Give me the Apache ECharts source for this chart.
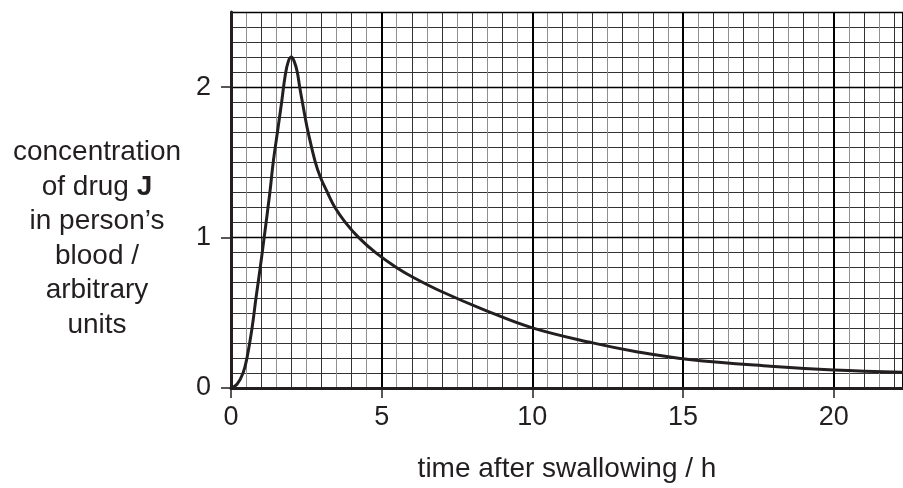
<!DOCTYPE html>
<html lang="en">
<head>
    <meta charset="UTF-8">
    <title>concentration of drug J</title>
    <script src="https://cdn.jsdelivr.net/npm/echarts@6/dist/echarts.min.js"></script>
    <style>
        * { margin: 0; padding: 0 }
        html, body { width: 100%; height: 100%; background: #fff }
        #main { width: 903px; height: 488px }
    </style>
</head>
<body>
    <div id="main"></div>
    <script type="text/javascript">
        var timeH = [0, 0.2, 0.4, 0.53, 0.7, 0.83, 0.97, 1.1, 1.29, 1.4, 1.54, 1.68, 1.8, 1.9, 2.0, 2.1, 2.2, 2.28, 2.37,
            2.46, 2.56, 2.8, 2.97, 3.2, 3.45, 3.8, 4.24, 4.8, 5.5, 6.1, 7, 8.4, 10, 12, 13.5, 15.2, 17.9, 20, 22.3];
        var concJ = [0, 0.025, 0.1, 0.2, 0.4, 0.6, 0.8, 1.0, 1.3, 1.5, 1.7, 1.9, 2.08, 2.17, 2.2, 2.17, 2.1, 2.0, 1.9,
            1.8, 1.7, 1.5, 1.4, 1.3, 1.2, 1.1, 1.0, 0.9, 0.8, 0.73, 0.64, 0.52, 0.4, 0.3, 0.24, 0.19, 0.145, 0.12, 0.105];
        var xTicks = [0, 5, 10, 15, 20];
        var yTicks = [0, 1, 2];
        var xMax = 22.3, yMax = 2.5;

        var ink = '#231f20';
        var font = "'Liberation Sans', Arial, Helvetica, sans-serif";

        var points = timeH.map(function (t, i) { return [t, concJ[i]] });

        var myChart = echarts.init(document.getElementById('main'));
        var option = {
            animation: false,
            backgroundColor: '#fff',
            grid: { left: 231, right: 0, top: 12, bottom: 98.5 },
            xAxis: [{
                // main axis: labels + 5 h lines
                type: 'value', min: 0, max: xMax, interval: 5, z: 1,
                axisLine: { lineStyle: { color: ink, width: 3 } },
                axisTick: { show: true, length: 10, lineStyle: { color: ink, width: 1.5 } },
                axisLabel: {
                    margin: 16, fontSize: 27, color: ink, fontFamily: font, showMaxLabel: false,
                    formatter: function (v) { return xTicks.indexOf(v) >= 0 ? String(v) : '' }
                },
                splitLine: { show: true, lineStyle: { color: '#000', width: 2 } },
                name: 'time after swallowing / h',
                nameLocation: 'middle',
                nameGap: 67,
                nameTextStyle: { fontSize: 28, color: ink, fontFamily: font }
            }, {
                // 1 h and 0.5 h graph paper lines
                type: 'value', min: 0, max: xMax, interval: 1,
                axisLine: { show: false }, axisTick: { show: false }, axisLabel: { show: false },
                splitLine: { show: true, lineStyle: { color: '#333', width: 1 } },
                minorTick: { show: false, splitNumber: 2 },
                minorSplitLine: { show: true, lineStyle: { color: '#909090', width: 1 } }
            }],
            yAxis: [{
                type: 'value', min: 0, max: yMax, interval: 1, z: 1,
                axisLine: { show: true, lineStyle: { color: ink, width: 3 } },
                axisTick: { show: true, length: 10, lineStyle: { color: ink, width: 1.5 } },
                axisLabel: {
                    margin: 20, fontSize: 27, color: ink, fontFamily: font, showMaxLabel: false,
                    formatter: function (v) { return yTicks.indexOf(v) >= 0 ? String(v) : '' }
                },
                splitLine: { show: true, lineStyle: { color: '#000', width: 1.3 } }
            }, {
                type: 'value', min: 0, max: yMax, interval: 0.5,
                axisLine: { show: false }, axisTick: { show: false }, axisLabel: { show: false },
                splitLine: { show: true, lineStyle: { color: '#333', width: 1 } },
                minorTick: { show: false, splitNumber: 5 },
                minorSplitLine: { show: true, lineStyle: { color: '#333', width: 1 } }
            }],
            graphic: [{
                type: 'text',
                x: 97,
                y: 239,
                style: {
                    text: 'concentration\nof drug {b|J}\nin person’s\nblood /\narbitrary\nunits',
                    align: 'center',
                    verticalAlign: 'middle',
                    fontSize: 28,
                    lineHeight: 34.5,
                    fontFamily: font,
                    fill: ink,
                    rich: {
                        b: { fontWeight: 'bold', fontSize: 28, lineHeight: 34.5, fontFamily: font, fill: ink }
                    }
                }
            }],
            series: [{
                type: 'line',
                xAxisIndex: 0,
                yAxisIndex: 0,
                data: points,
                smooth: 0.4,
                showSymbol: false,
                lineStyle: { color: ink, width: 3 },
                z: 5
            }]
        };
        myChart.setOption(option);
    </script>
</body>
</html>
